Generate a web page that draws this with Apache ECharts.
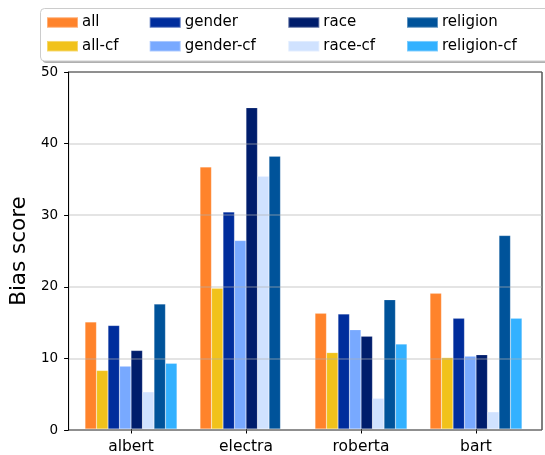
<!DOCTYPE html>
<html>
<head>
<meta charset="utf-8">
<script src="https://cdn.jsdelivr.net/npm/echarts@6/dist/echarts.min.js"></script>
<style>
  html, body { margin: 0; padding: 0; background: #fff; }
  #chart { width: 545px; height: 455px; }
</style>
</head>
<body>
<div id="chart"></div>
<script>
// Models on the x axis
const categories = ['albert', 'electra', 'roberta', 'bart'];

// Bias scores per model, one array per bias type
const allScores        = [15.0, 36.7, 16.2, 19.0];
const allCfScores      = [8.2, 19.7, 10.7, 10.0];
const genderScores     = [14.5, 30.4, 16.1, 15.5];
const genderCfScores   = [8.8, 26.4, 13.9, 10.2];
const raceScores       = [11.0, 45.0, 13.0, 10.4];
const raceCfScores     = [5.2, 35.4, 4.3, 2.4];
const religionScores   = [17.5, 38.2, 18.1, 27.1];
const religionCfScores = [9.2, '-', 11.9, 15.5];

const yTicks = [0, 10, 20, 30, 40, 50];

const seriesDefs = [
  { name: 'all',         data: allScores,        color: '#FF832B' },
  { name: 'all-cf',      data: allCfScores,      color: '#F1C21B' },
  { name: 'gender',      data: genderScores,     color: '#002D9C' },
  { name: 'gender-cf',   data: genderCfScores,   color: '#78A9FF' },
  { name: 'race',        data: raceScores,       color: '#001D6C' },
  { name: 'race-cf',     data: raceCfScores,     color: '#D0E2FF' },
  { name: 'religion',    data: religionScores,   color: '#00539A' },
  { name: 'religion-cf', data: religionCfScores, color: '#33B1FF' }
];

const FONT = 'DejaVu Sans';
const chart = echarts.init(document.getElementById('chart'), null, { renderer: 'canvas' });

// legend laid out in four columns of two entries
const legendCols = [
  { left: 46,    items: ['all', 'all-cf'] },
  { left: 148.7, items: ['gender', 'gender-cf'] },
  { left: 287.3, items: ['race', 'race-cf'] },
  { left: 406,   items: ['religion', 'religion-cf'] }
];

const legends = legendCols.map(c => ({
  orient: 'vertical',
  left: c.left,
  top: 14.5,
  data: c.items,
  icon: 'rect',
  itemWidth: 31,
  itemHeight: 10.5,
  itemGap: 7.7,
  selectedMode: false,
  padding: 0,
  textStyle: { fontFamily: FONT, fontSize: 15, color: '#000', lineHeight: 16, padding: [0, 0, 0, -1] }
}));

const option = {
  animation: false,
  backgroundColor: '#fff',
  textStyle: { fontFamily: FONT },
  graphic: [
    { type: 'rect', z: 0, shape: { x: 42.5, y: 10.5, width: 520, height: 52.5, r: 4 },
      style: { fill: '#b0b0b0', stroke: null } },
    { type: 'rect', z: 1, shape: { x: 40.5, y: 8.5, width: 520, height: 52.5, r: 4 },
      style: { fill: '#fff', stroke: '#cccccc', lineWidth: 1 } }
  ],
  legend: legends,
  grid: [
    { left: 63, right: 3, top: 72, bottom: 25, show: true, borderColor: '#000', borderWidth: 1, backgroundColor: 'transparent' },
    { left: 73.5, right: 11.5, top: 72, bottom: 25 }
  ],
  xAxis: [
    { gridIndex: 0, type: 'value', min: 0, max: 1, show: false },
    {
      gridIndex: 1,
      type: 'category',
      data: categories,
      axisLine: { show: false },
      axisTick: { show: true, alignWithLabel: true, length: 4.5, lineStyle: { color: '#000', width: 1 } },
      axisLabel: { fontFamily: FONT, fontSize: 15.5, color: '#000', margin: 10 }
    }
  ],
  yAxis: [
    {
      gridIndex: 0,
      type: 'value',
      min: 0, max: 50, interval: 10,
      z: 5,
      name: 'Bias score',
      nameLocation: 'middle',
      nameGap: 34,
      nameTextStyle: { fontFamily: FONT, fontSize: 21.5, color: '#000' },
      axisLine: { show: true, lineStyle: { color: '#000', width: 1 } },
      axisTick: { show: true, length: 4.5, lineStyle: { color: '#000', width: 1 } },
      axisLabel: {
        fontFamily: FONT, fontSize: 13.5, color: '#000', margin: 10.5,
        customValues: yTicks
      },
      splitLine: { show: true, lineStyle: { color: 'rgba(176,176,176,0.45)', width: 1.5 } }
    },
    { gridIndex: 1, type: 'value', min: 0, max: 50, show: false }
  ],
  series: seriesDefs.map(s => ({
    name: s.name,
    type: 'bar',
    xAxisIndex: 1,
    yAxisIndex: 1,
    data: s.data,
    barWidth: 11.5,
    barGap: '0%',
    itemStyle: { color: s.color, borderColor: 'rgba(255,255,255,0.35)', borderWidth: 0.5 }
  }))
};

chart.setOption(option);
</script>
</body>
</html>
